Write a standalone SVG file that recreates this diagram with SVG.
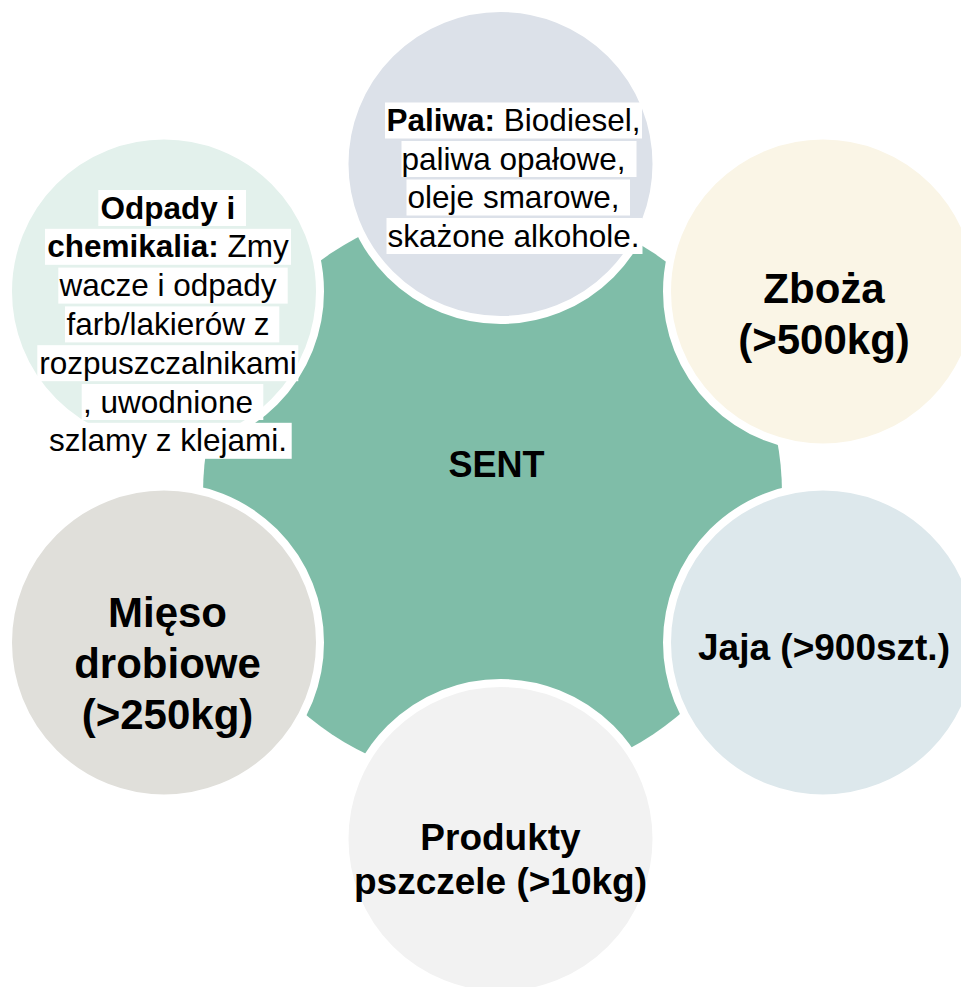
<svg xmlns="http://www.w3.org/2000/svg" width="961" height="987" viewBox="0 0 961 987">
<style>
text{font-family:"Liberation Sans",Arial,sans-serif;fill:#000}
.ring{stroke:#fff;stroke-width:8}
.big{font-weight:bold;font-size:42px;text-anchor:middle}
.mid{font-weight:bold;font-size:37px;text-anchor:middle}
.sm{font-size:31.5px;text-anchor:middle}
.b{font-weight:bold}
.hl{fill:#fff}
</style>
<rect width="961" height="987" fill="#fff"/>
<g id="connectors"/>
<g id="node-sent">
<circle cx="492.5" cy="493.5" r="289.5" fill="#7FBDA8"/>
<text x="496.5" y="476.5" style="font-weight:bold;font-size:36px;text-anchor:middle">SENT</text>
</g>
<g id="node-paliwa">
<circle class="ring" cx="500.5" cy="164" r="156" fill="#DCE1E9"/>
<rect class="hl" x="385" y="102.5" width="257" height="36"/>
<rect class="hl" x="401.5" y="141" width="235" height="36"/>
<rect class="hl" x="406.5" y="179.5" width="223.5" height="36"/>
<rect class="hl" x="386.5" y="218" width="256" height="36"/>
<text class="sm" x="513.5" y="131"><tspan class="b">Paliwa:</tspan> Biodiesel,</text>
<text class="sm" x="513.5" y="169.5">paliwa opałowe,</text>
<text class="sm" x="513.5" y="208">oleje smarowe,</text>
<text class="sm" x="513.5" y="246.5">skażone alkohole.</text>
</g>
<g id="node-zboza">
<circle class="ring" cx="823" cy="291.5" r="156" fill="#FAF5E6"/>
<text class="big" x="824" y="302.5">Zboża</text>
<text class="big" x="824" y="353.5">(&gt;500kg)</text>
</g>
<g id="node-jaja">
<circle class="ring" cx="823" cy="642.5" r="156" fill="#DDE8EC"/>
<text class="mid" x="824" y="659.5">Jaja (&gt;900szt.)</text>
</g>
<g id="node-produkty">
<circle class="ring" cx="500.5" cy="839" r="156" fill="#F2F2F2"/>
<text class="mid" x="500.5" y="849.5">Produkty</text>
<text class="mid" x="500.5" y="893.5">pszczele (&gt;10kg)</text>
</g>
<g id="node-mieso">
<circle class="ring" cx="164" cy="642.5" r="156" fill="#E0DFDA"/>
<text class="big" x="167.5" y="627">Mięso</text>
<text class="big" x="167.5" y="678">drobiowe</text>
<text class="big" x="167.5" y="728.5">(&gt;250kg)</text>
</g>
<g id="node-odpady">
<circle class="ring" cx="164" cy="291.5" r="156" fill="#E3F1EC"/>
<rect class="hl" x="98.3" y="190" width="147.7" height="36"/>
<rect class="hl" x="45" y="228.8" width="246" height="36"/>
<rect class="hl" x="58.3" y="267.6" width="229.4" height="36"/>
<rect class="hl" x="65" y="306.4" width="214.3" height="36"/>
<rect class="hl" x="37.3" y="345.2" width="261" height="36"/>
<rect class="hl" x="81.7" y="384" width="181.6" height="36"/>
<rect class="hl" x="45" y="422.8" width="246.7" height="36"/>
<text class="sm b" x="168" y="218.5">Odpady i</text>
<text class="sm" x="168" y="257.3"><tspan class="b">chemikalia:</tspan> Zmy</text>
<text class="sm" x="168" y="296.1">wacze i odpady</text>
<text class="sm" x="168" y="334.9">farb/lakierów z</text>
<text class="sm" x="168" y="373.7">rozpuszczalnikami</text>
<text class="sm" x="168" y="412.5">, uwodnione</text>
<text class="sm" x="168" y="451.3">szlamy z klejami.</text>
</g>
</svg>
